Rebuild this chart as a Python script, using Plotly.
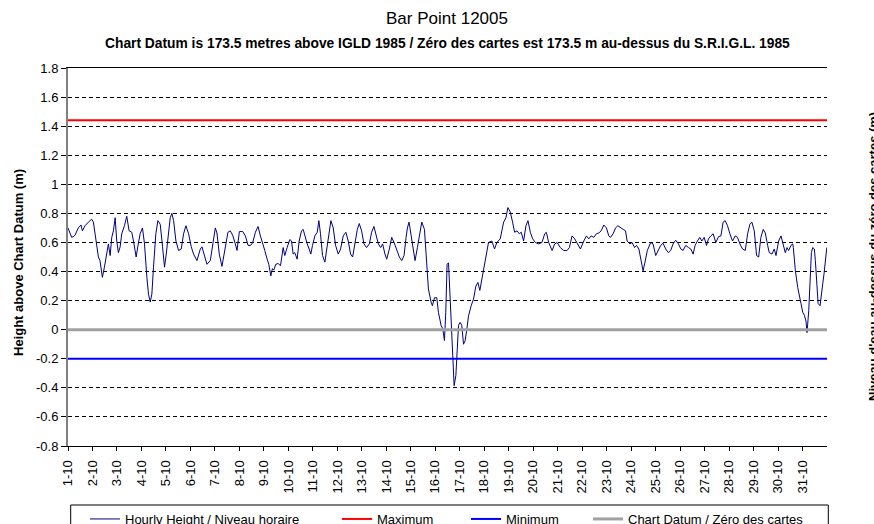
import plotly.graph_objects as go

# ---------------- data ----------------
hours = [
    0, 3.6, 5.2, 6.9, 10.1, 12.8, 14.1, 16.7, 20.0, 23.2, 24.9, 28.2, 29.8, 31.4, 33.7, 35.7, 38.0, 39.6,
    41.3, 42.9, 44.5, 46.2, 47.8, 49.4, 51.1, 52.7, 55.3, 57.6, 59.9, 62.5, 64.2, 66.8, 68.4, 70.7,
    73.0, 75.0, 77.3, 78.9, 80.6, 82.2, 83.8, 86.1, 88.1, 90.4, 92.7, 94.6, 96.3, 98.6, 100.2, 101.8,
    103.5, 105.8, 108.4, 111.0, 113.3, 115.6, 118.2, 120.8, 123.1, 126.4, 129.7, 131.3, 133.9, 136.2,
    139.5, 141.8, 144.4, 146.0, 148.3, 150.9, 153.6, 156.8, 159.1, 161.4, 164.0, 165.7, 168.0, 171.3,
    173.9, 176.5, 179.1, 181.1, 183.7, 186.3,
    188.6, 190.6, 192.9, 195.2, 196.8, 198.8, 200.4, 201.7, 203.7, 206.0, 208.3, 210.9, 212.5, 214.8,
    217.4, 219.1, 220.7, 222.3, 224.6, 226.6, 228.9, 230.5, 232.1, 234.5, 236.4, 238.0, 239.7, 242.0,
    244.3, 245.9, 247.5, 249.5, 251.8, 254.1, 256.1, 257.7, 260.0, 262.3, 264.9, 267.2, 269.8, 272.4,
    274.7, 277.0, 279.0, 281.3, 283.6, 285.5, 287.8, 290.1, 292.7, 295.4, 297.6, 299.9, 301.9, 304.2,
    306.5, 308.4, 310.7, 312.4, 315.0, 317.3, 319.6, 322.2, 324.8, 327.1, 329.4, 331.4, 332.7, 334.3,
    336.0, 337.9, 340.2, 342.5, 345.1,
    346.8, 349.4, 351.7, 353.3, 355.9, 357.2, 359.2, 361.5, 363.1, 365.7, 367.4, 369.0, 370.3, 371.6,
    373.0, 374.3, 375.6, 377.2, 378.5, 380.2, 381.5, 382.8, 384.4, 386.0, 387.7, 389.3, 391.0, 392.6,
    395.2, 397.5, 399.8, 401.8, 403.7, 405.7, 409.0, 412.2, 415.5, 418.1, 420.4, 423.7, 427.0, 429.3,
    431.2, 433.5, 435.8, 437.8, 440.1, 442.4, 444.3, 446.6, 448.9, 450.9, 453.2, 455.5, 458.1, 461.4,
    464.6, 467.3, 468.9, 471.2, 474.5, 477.1, 479.4, 482.6, 485.9, 489.2, 491.5, 494.1, 496.7, 499.0,
    502.3, 505.6, 508.2, 510.5, 512.8, 515.4, 518.0, 520.3, 522.6, 525.2, 527.8, 530.1, 531.8, 534.4,
    536.7, 539.0, 541.6, 544.2, 546.5, 548.1, 550.8, 553.0, 555.3, 557.3, 559.6, 561.9,
    563.7, 565.6, 567.9, 571.2, 573.5, 576.1, 578.7, 581.0, 583.3, 585.9, 588.5, 590.8, 593.1, 595.7,
    598.4, 600.7, 602.9, 605.6, 608.2, 610.5, 612.8, 614.7, 617.0, 619.3, 621.3, 623.6, 625.9, 627.8,
    630.1, 632.4, 635.0, 637.7, 640.0, 642.2, 644.2, 646.5, 648.8, 651.4, 654.0, 656.3, 658.6, 661.2,
    663.9, 666.2, 668.4, 670.4, 672.7, 675.0, 677.0, 679.2, 681.5, 683.5, 685.8, 687.4, 690.1, 692.3,
    694.0, 696.6, 698.9, 701.2, 703.1, 704.8, 706.4, 708.7, 710.4, 711.0, 713.0, 715.3, 716.9, 718.5,
    720.2, 721.8, 723.4, 724.4, 726.1, 727.4, 728.7, 730.0, 731.6, 732.6, 733.9, 735.3, 737.2, 738.5,
    739.8, 741.1, 742.4, 743.8,
]

height_m = [
    0.70, 0.635, 0.64, 0.65, 0.70, 0.72, 0.68, 0.715, 0.74, 0.76, 0.74, 0.59, 0.50, 0.475, 0.36, 0.43, 0.52, 0.59,
    0.51, 0.635, 0.68, 0.77, 0.61, 0.53, 0.57, 0.66, 0.715, 0.78, 0.68, 0.67, 0.61, 0.50, 0.57, 0.66,
    0.70, 0.59, 0.36, 0.245, 0.19, 0.245, 0.43, 0.66, 0.75, 0.725, 0.57, 0.43, 0.52, 0.68, 0.77, 0.80,
    0.75, 0.61, 0.545, 0.555, 0.66, 0.715, 0.66, 0.57, 0.52, 0.475, 0.555, 0.57, 0.50, 0.45,
    0.475, 0.59, 0.70, 0.665, 0.52, 0.435, 0.545, 0.67, 0.68, 0.65, 0.59, 0.545, 0.675, 0.675,
    0.645, 0.58, 0.58, 0.60, 0.67, 0.71,
    0.645, 0.59, 0.545, 0.485, 0.45, 0.37, 0.42, 0.41, 0.45, 0.455, 0.44, 0.565, 0.51, 0.565,
    0.62, 0.61, 0.52, 0.53, 0.485, 0.61, 0.68, 0.69, 0.645, 0.59, 0.555, 0.52, 0.58, 0.645,
    0.67, 0.75, 0.66, 0.51, 0.465, 0.59, 0.70, 0.75, 0.70, 0.58, 0.52, 0.555, 0.645, 0.67,
    0.61, 0.52, 0.50, 0.59, 0.69, 0.73, 0.68, 0.59, 0.565, 0.59, 0.67, 0.71, 0.645, 0.59,
    0.565, 0.59, 0.52, 0.485, 0.555, 0.635, 0.60, 0.545, 0.50, 0.475, 0.51, 0.635, 0.70, 0.74,
    0.67, 0.60, 0.475, 0.565, 0.68,
    0.74, 0.69, 0.42, 0.28, 0.19, 0.165, 0.22, 0.22, 0.12, 0.03, 0.005, -0.075, 0.12, 0.45,
    0.46, 0.28, 0.005, -0.18, -0.385, -0.315, -0.135, 0.03, 0.05, 0.03, -0.10, -0.075, 0.005, 0.095,
    0.165, 0.21, 0.30, 0.325, 0.27, 0.35, 0.485, 0.60, 0.61, 0.555, 0.60, 0.625, 0.74, 0.77,
    0.84, 0.81, 0.74, 0.67, 0.68, 0.66, 0.67, 0.61, 0.715, 0.75, 0.67, 0.625, 0.60, 0.59,
    0.60, 0.66, 0.67, 0.60, 0.545, 0.59, 0.60, 0.565, 0.545, 0.545, 0.565, 0.645, 0.625, 0.60,
    0.555, 0.61, 0.645, 0.625, 0.645, 0.635, 0.66, 0.665, 0.68, 0.72, 0.70, 0.645, 0.635, 0.66,
    0.70, 0.715, 0.70, 0.69, 0.68, 0.61, 0.59, 0.60, 0.565, 0.58, 0.555, 0.465,
    0.405, 0.465, 0.545, 0.60, 0.59, 0.51, 0.545, 0.58, 0.595, 0.555, 0.53, 0.545, 0.59, 0.615,
    0.59, 0.555, 0.545, 0.58, 0.565, 0.555, 0.52, 0.58, 0.61, 0.635, 0.61, 0.635, 0.58, 0.625,
    0.645, 0.66, 0.60, 0.64, 0.645, 0.74, 0.75, 0.715, 0.66, 0.61, 0.645, 0.635, 0.59, 0.555,
    0.545, 0.66, 0.725, 0.74, 0.68, 0.51, 0.50, 0.635, 0.69, 0.665, 0.58, 0.53, 0.52, 0.555,
    0.51, 0.61, 0.645, 0.58, 0.53, 0.565, 0.545, 0.58, 0.59, 0.565, 0.405, 0.29, 0.245, 0.18,
    0.12, 0.10, 0.06, -0.02, 0.13, 0.36, 0.53, 0.565, 0.555, 0.475, 0.315, 0.18, 0.165, 0.225,
    0.315, 0.385, 0.485, 0.565,
]

period_hours = [0, 744]          # October 1 00:00 to November 1 00:00
maximum_level = [1.44, 1.44]
minimum_level = [-0.2, -0.2]
chart_datum = [0.0, 0.0]

day_tick_hours = [0, 24, 48, 72, 96, 120, 144, 168, 192, 216, 240, 264, 288, 312, 336, 360,
                  384, 408, 432, 456, 480, 504, 528, 552, 576, 600, 624, 648, 672, 696, 720]
day_labels = ["1-10", "2-10", "3-10", "4-10", "5-10", "6-10", "7-10", "8-10", "9-10", "10-10",
              "11-10", "12-10", "13-10", "14-10", "15-10", "16-10", "17-10", "18-10", "19-10",
              "20-10", "21-10", "22-10", "23-10", "24-10", "25-10", "26-10", "27-10", "28-10",
              "29-10", "30-10", "31-10"]
y_tick_values = [-0.8, -0.6, -0.4, -0.2, 0, 0.2, 0.4, 0.6, 0.8, 1.0, 1.2, 1.4, 1.6, 1.8]
y_tick_labels = ["-0.8", "-0.6", "-0.4", "-0.2", "0", "0.2", "0.4", "0.6", "0.8", "1",
                 "1.2", "1.4", "1.6", "1.8"]

FONT = "Liberation Sans, Arial, sans-serif"
W, H = 874, 524

fig = go.Figure()
fig.add_trace(go.Scatter(x=hours, y=height_m, mode="lines", name="Hourly Height / Niveau horaire",
                         line=dict(color="#000080", width=1), legendwidth=207))
fig.add_trace(go.Scatter(x=period_hours, y=maximum_level, mode="lines", name="Maximum",
                         line=dict(color="#FF0000", width=2), legendwidth=84))
fig.add_trace(go.Scatter(x=period_hours, y=minimum_level, mode="lines", name="Minimum",
                         line=dict(color="#0000FF", width=2), legendwidth=77))
fig.add_trace(go.Scatter(x=period_hours, y=chart_datum, mode="lines", name="Chart Datum / Zéro des cartes",
                         line=dict(color="#A0A0A0", width=3), legendwidth=200))

fig.update_layout(
    width=W, height=H,
    margin=dict(l=68, r=47, t=68, b=78, autoexpand=False),
    paper_bgcolor="white", plot_bgcolor="white",
    font=dict(family=FONT, size=13, color="black"),
    title=dict(text="Bar Point 12005", x=447 / W, xanchor="center", y=1 - 18 / H, yanchor="middle",
               font=dict(family=FONT, size=17, color="black")),
    showlegend=True,
    legend=dict(orientation="h", xref="container", yref="container",
                x=85 / W, xanchor="left", y=1 - 504 / H, yanchor="top",
                font=dict(family=FONT, size=13, color="black"), bgcolor="rgba(0,0,0,0)", borderwidth=0,
                itemclick=False),
    xaxis=dict(range=[0, 744], tickmode="array", tickvals=day_tick_hours, ticktext=day_labels,
               tickangle=-90, showgrid=False, zeroline=False, showline=True, linecolor="black",
               linewidth=1, mirror=True, ticks="outside", ticklen=4, tickcolor="black",
               ticklabelstandoff=4,
               tickfont=dict(family=FONT, size=13, color="black")),
    yaxis=dict(range=[-0.8, 1.8], tickmode="array", tickvals=y_tick_values, ticktext=y_tick_labels,
               showgrid=True, gridcolor="black", gridwidth=1, griddash="4px,3px", zeroline=False,
               showline=True, linecolor="#808080", linewidth=2, ticks="outside", ticklen=5,
               tickcolor="black", tickfont=dict(family=FONT, size=13, color="black")),
    yaxis2=dict(range=[-0.8, 1.8], overlaying="y", side="right", tickmode="array",
                tickvals=y_tick_values, ticktext=y_tick_labels, showgrid=False, zeroline=False,
                showline=True, linecolor="#808080", linewidth=2, ticks="outside", ticklen=4,
                tickcolor="black", tickfont=dict(family=FONT, size=13, color="black")),
)

fig.add_annotation(text="<b>Chart Datum is 173.5 metres above IGLD 1985 / Zéro des cartes est 173.5 m au-dessus du S.R.I.G.L. 1985</b>",
                   xref="paper", yref="paper", x=(447 - 68) / 759, y=1 + (68 - 43) / 378,
                   xanchor="center", yanchor="middle", showarrow=False,
                   font=dict(family=FONT, size=13.8, color="black"))
fig.add_annotation(text="<b>Height above Chart Datum (m)</b>", textangle=-90,
                   xref="paper", yref="paper", x=(18 - 68) / 759, y=1 - (263 - 68) / 378,
                   xanchor="center", yanchor="middle", showarrow=False,
                   font=dict(family=FONT, size=13, color="black"))
fig.add_annotation(text="<b>Niveau d'eau au-dessus du zéro des cartes (m)</b>", textangle=-90,
                   xref="paper", yref="paper", x=(873 - 68) / 759, y=1 - (257 - 68) / 378,
                   xanchor="center", yanchor="middle", showarrow=False,
                   font=dict(family=FONT, size=13, color="black"))
# legend frame
fig.add_shape(type="rect", xref="paper", yref="paper",
              x0=(70.7 - 68) / 759, x1=(828.3 - 68) / 759,
              y0=1 - (505 - 68) / 378, y1=1 - (540 - 68) / 378,
              line=dict(color="black", width=1), fillcolor="rgba(0,0,0,0)", layer="above")

fig.write_html("out.html", config={"displayModeBar": False},
               post_script="document.body.style.margin='0';document.body.style.overflow='hidden';")
